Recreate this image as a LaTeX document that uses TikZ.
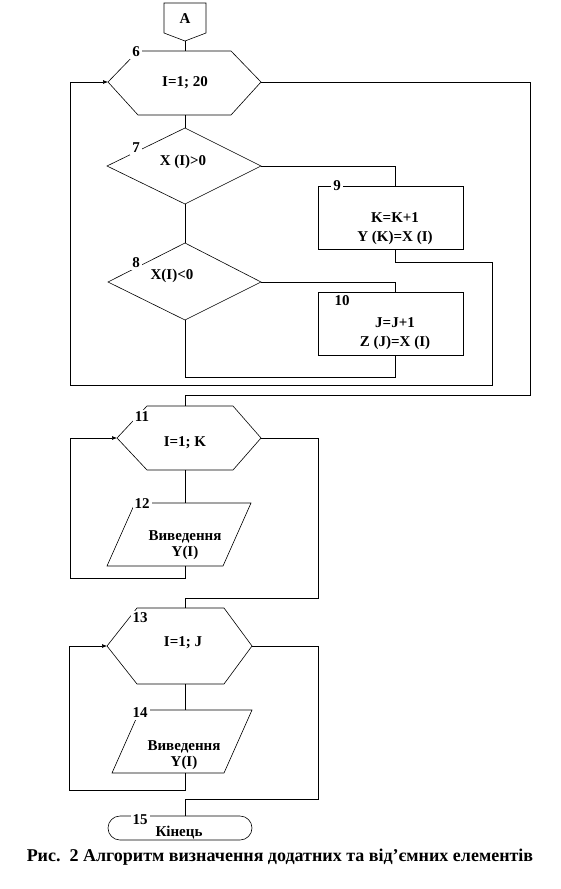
\documentclass[tikz,border=0pt]{standalone}
\usepackage{fontspec}
\setmainfont{Liberation Serif}
\usetikzlibrary{arrows.meta}
\begin{document}
\begin{tikzpicture}[x=1pt,y=-1pt,
  shp/.style={draw=black,line width=0.6pt,fill=white},
  ln/.style={draw=black,line width=0.6pt},
  arr/.style={ln,-{Latex[length=5pt,width=4pt]}},
  txt/.style={font=\fontsize{15}{16}\selectfont\bfseries,inner sep=0pt,align=center},
  lbl/.style={font=\fontsize{15}{16}\selectfont\bfseries,fill=white,inner sep=2pt},
  captionstyle/.style={font=\fontsize{18}{20}\selectfont\bfseries,inner sep=0pt}]
\useasboundingbox (0,0) rectangle (561,889);
% ---- shapes ----
\draw[shp] (164,3) -- (206,3) -- (206,33) -- (185,41) -- (164,33) -- cycle;
\coordinate (Ab) at (185,41);
\node[txt] (A) at (185,19) {A};

\draw[shp] (138,51) -- (231,51) -- (261,82) -- (231,115) -- (138,115) -- (108,82) -- cycle;
\coordinate (h6t) at (185,51); \coordinate (h6b) at (185,115);
\coordinate (h6l) at (108,82); \coordinate (h6r) at (261,82);
\node[txt] (t6) at (185,83) {I=1; 20};
\node[lbl] (l6) at (136,52) {6};

\draw[shp] (185,128) -- (261,166) -- (185,204) -- (107,166) -- cycle;
\coordinate (d7t) at (185,128); \coordinate (d7b) at (185,204); \coordinate (d7r) at (261,166);
\node[txt] (t7) at (183,162) {X (I)>0};
\node[lbl] (l7) at (136,148) {7};

\draw[shp] (318,186) rectangle (463,249);
\coordinate (b9t) at (395,186); \coordinate (b9b) at (395,249);
\node[txt] (t9a) at (395,218) {K=K+1};
\node[txt] (t9b) at (395,238) {Y (K)=X (I)};
\node[lbl] (l9) at (337,186) {9};

\draw[shp] (185,243) -- (261,282) -- (185,320) -- (108,282) -- cycle;
\coordinate (d8t) at (185,243); \coordinate (d8b) at (185,320); \coordinate (d8r) at (261,282);
\node[txt] (t8) at (172,276) {X(I)<0};
\node[lbl] (l8) at (136,263) {8};

\draw[shp] (318,292) rectangle (463,355);
\coordinate (b10t) at (395,292); \coordinate (b10b) at (395,355);
\node[txt] (t10a) at (395,323) {J=J+1};
\node[txt] (t10b) at (395,343) {Z (J)=X (I)};
\node[lbl,fill=none] (l10) at (342,301) {10};

\draw[shp] (147,406) -- (233,406) -- (261,438) -- (233,470) -- (147,470) -- (117,438) -- cycle;
\coordinate (h11t) at (185,406); \coordinate (h11b) at (185,470);
\coordinate (h11l) at (117,438); \coordinate (h11r) at (261,438);
\node[txt] (t11) at (185,443) {I=1; K};
\node[lbl] (l11) at (142,417) {11};

\draw[shp] (135,503) -- (251,503) -- (223,566) -- (107,566) -- cycle;
\coordinate (p12t) at (185,503); \coordinate (p12b) at (185,566);
\node[txt] (t12) at (185,545) {Виведення\\[0pt]Y(I)};
\node[lbl] (l12) at (142,504) {12};

\draw[shp] (137,608) -- (224,608) -- (252,646) -- (224,684) -- (137,684) -- (107,646) -- cycle;
\coordinate (h13t) at (185,608); \coordinate (h13b) at (185,684);
\coordinate (h13l) at (107,646); \coordinate (h13r) at (252,646);
\node[txt] (t13) at (183,643) {I=1; J};
\node[lbl] (l13) at (140,618) {13};

\draw[shp] (140,710) -- (252,710) -- (224,773) -- (112,773) -- cycle;
\coordinate (p14t) at (185,710); \coordinate (p14b) at (185,773);
\node[txt] (t14) at (184,755) {Виведення\\[0pt]Y(I)};
\node[lbl] (l14) at (140,713) {14};

\draw[shp,rounded corners=12pt] (108,816) rectangle (252,840);
\coordinate (e15t) at (185,816);
\node[txt] (t15) at (179,833) {Кінець};
\node[lbl] (l15) at (140,820) {15};

\node[captionstyle] (caption) at (280,857) {Рис.\ \ 2 Алгоритм визначення додатних та від’ємних елементів};

% ---- connectors ----
\draw[ln] (Ab) -- (h6t);
\draw[ln] (h6b) -- (d7t);
\draw[ln] (d7r) -| (b9t);
\draw[ln] (d7b) -- (d8t);
\draw[ln] (d8r) -| (b10t);
\coordinate (c1) at (395,262); \coordinate (c2) at (492,385); \coordinate (c3) at (70,385);
\draw[arr] (b9b) -- (c1) -| (c2) -- (c3) |- (h6l);
\coordinate (c4) at (185,377);
\draw[ln] (b10b) |- (c4) -- (d8b);
\coordinate (c5) at (530,82); \coordinate (c6) at (530,395);
\draw[ln] (h6r) -- (c5) -- (c6) -| (h11t);
\draw[ln] (h11b) -- (p12t);
\coordinate (c7) at (70,578);
\draw[arr] (p12b) |- (c7) |- (h11l);
\coordinate (c8) at (318,598);
\draw[ln] (h11r) -| (c8) -| (h13t);
\draw[ln] (h13b) -- (p14t);
\coordinate (c9) at (69,790);
\draw[arr] (p14b) |- (c9) |- (h13l);
\coordinate (c10) at (318,799);
\draw[ln] (h13r) -| (c10) -| (e15t);
\end{tikzpicture}
\end{document}
